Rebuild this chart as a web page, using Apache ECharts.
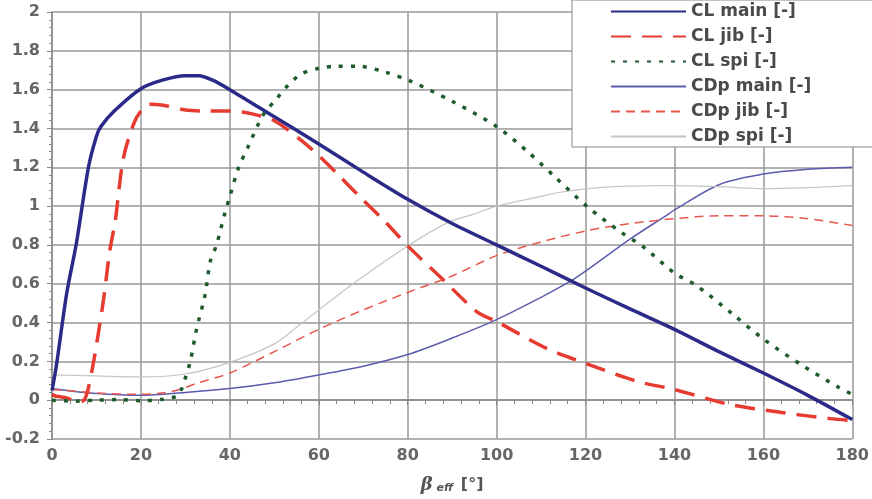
<!DOCTYPE html>
<html>
<head>
<meta charset="utf-8">
<script src="https://cdn.jsdelivr.net/npm/echarts@6/dist/echarts.min.js"></script>
<style>
  html, body { margin: 0; padding: 0; background: #fff; }
  #chart { width: 872px; height: 499px; }
</style>
</head>
<body>
<div id="chart"></div>
<script>
// series names (legend)
const names = ['CL main [-]', 'CL jib [-]', 'CL spi [-]', 'CDp main [-]', 'CDp jib [-]', 'CDp spi [-]']

// [beta_eff (deg), coefficient]
const clMain = [[0, 0.05], [1, 0.18], [3.3, 0.55], [5.5, 0.81], [8.2, 1.2], [10, 1.36], [11, 1.41], [14, 1.49],
  [20, 1.605], [25, 1.65], [30, 1.672], [33, 1.672], [36, 1.65], [40, 1.6], [50, 1.46], [60, 1.32], [70, 1.175],
  [80, 1.035], [90, 0.91], [100, 0.8], [110, 0.69], [120, 0.578], [130, 0.47], [140, 0.365], [150, 0.25],
  [160, 0.14], [170, 0.025], [180, -0.1]]

const clJib = [[0, 0.03], [1, 0.02], [3.3, 0.012], [5.8, -0.01], [7.2, 0.0], [8.1, 0.055], [9.3, 0.19], [10.5, 0.355],
  [11.6, 0.52], [13, 0.77], [14.2, 0.92], [16, 1.24], [18.3, 1.42], [20, 1.49], [22, 1.525], [25, 1.52], [30, 1.495],
  [35, 1.49], [40, 1.49], [45, 1.475], [50, 1.44], [56, 1.34], [60, 1.26], [64, 1.17], [70, 1.03], [74.5, 0.93],
  [80, 0.795], [88, 0.62], [95.6, 0.455], [100, 0.405], [111.4, 0.265], [120, 0.19], [131.6, 0.097], [140, 0.055],
  [152, -0.02], [163, -0.06], [175, -0.095], [180, -0.105]]

const clSpi = [[0, 0], [5, -0.005], [10, 0], [15, 0.003], [20, -0.003], [25, 0.005], [28, 0.02], [29, 0.05],
  [30, 0.115], [31.1, 0.2], [32.5, 0.365], [34.4, 0.54], [35.6, 0.715], [37, 0.8], [38.9, 0.965], [40, 1.05],
  [42, 1.2], [44, 1.3], [47.5, 1.47], [50.6, 1.555], [53, 1.62], [56, 1.68], [60, 1.71], [64, 1.72], [69, 1.72],
  [75, 1.69], [80.5, 1.645], [90, 1.54], [100, 1.41], [107, 1.28], [113.6, 1.14], [120.5, 0.995], [128, 0.865],
  [133, 0.79], [140, 0.655], [145, 0.59], [153, 0.445], [160, 0.315], [168.7, 0.18], [177, 0.065], [180, 0.03]]

const cdpMain = [[0, 0.06], [5, 0.045], [10, 0.035], [20, 0.025], [30, 0.04], [40, 0.06], [50, 0.09], [60, 0.13],
  [70, 0.175], [80, 0.235], [90, 0.32], [100, 0.415], [110, 0.53], [116.6, 0.613], [120, 0.665], [130, 0.83],
  [138.4, 0.955], [140, 0.98], [150, 1.11], [160, 1.165], [170, 1.19], [180, 1.2]]

const cdpJib = [[0, 0.055], [6, 0.045], [12, 0.035], [20, 0.03], [27, 0.045], [33, 0.09], [40, 0.14], [50, 0.25],
  [60, 0.365], [70, 0.465], [80, 0.555], [90, 0.64], [100, 0.745], [110, 0.815], [120, 0.872], [130, 0.91],
  [140, 0.935], [150, 0.95], [160, 0.95], [170, 0.935], [180, 0.9]]

const cdpSpi = [[0, 0.13], [10, 0.125], [20, 0.12], [30, 0.135], [40, 0.195], [50, 0.29], [55.8, 0.39], [60, 0.465],
  [68, 0.605], [80, 0.795], [89, 0.915], [95, 0.96], [100, 1.0], [110, 1.05], [114, 1.07], [123, 1.095],
  [137, 1.105], [150, 1.1], [160, 1.09], [170, 1.095], [180, 1.105]]

const font = 'DejaVu Sans, Verdana, sans-serif'

const mkLine = (name, data, color, width, type) => ({
  name: name,
  type: 'line',
  data: data,
  xAxisIndex: 0,
  showSymbol: false,
  symbol: 'none',
  smooth: 0.3,
  lineStyle: { color: color, width: width, type: type, cap: 'butt' },
  itemStyle: { color: color },
  emphasis: { disabled: true }
})

let chart = echarts.init(document.getElementById('chart'))
let option = {
  animation: false,
  backgroundColor: '#fff',
  textStyle: { fontFamily: font },
  grid: { left: 52, right: 19, top: 12, bottom: 48 },
  legend: {
    data: names,
    orient: 'vertical',
    left: 572,
    top: 0,
    padding: [3, 110, 2, 38],
    itemWidth: 75,
    itemHeight: 14,
    itemGap: 8,
    backgroundColor: '#fff',
    borderColor: '#888',
    borderWidth: 1,
    itemStyle: { opacity: 0, borderWidth: 0 },
    textStyle: { fontFamily: font, fontSize: 17, lineHeight: 14, fontWeight: 'bold', color: '#4a4a4a' }
  },
  xAxis: [
    {
      type: 'value',
      position: 'bottom',
      min: 0,
      max: 180,
      interval: 20,
      axisLine: { show: false, onZero: false },
      axisTick: { show: false },
      axisLabel: { fontSize: 16, fontWeight: 'bold', color: '#666', margin: 9, fontFamily: font },
      splitLine: { show: true, lineStyle: { color: '#999', width: 1.5 } },
      name: '{b|β}{s| eff}  {u|[°]}',
      nameLocation: 'middle',
      nameGap: 37,
      nameTextStyle: {
        rich: {
          b: { fontSize: 18, fontStyle: 'italic', fontWeight: 'bold', color: '#555', fontFamily: 'DejaVu Serif' },
          s: { fontSize: 11, fontStyle: 'italic', fontWeight: 'bold', color: '#555', padding: [6, 0, 0, 0], fontFamily: font },
          u: { fontSize: 16, fontWeight: 'bold', color: '#555', fontFamily: font }
        }
      }
    },
    {
      type: 'value',
      position: 'top',
      min: 0,
      max: 180,
      interval: 20,
      axisLine: { show: true, onZero: true, lineStyle: { color: '#888', width: 1.5 } },
      axisTick: { show: true, inside: true, length: 5, lineStyle: { color: '#888' } },
      minorTick: { show: true, splitNumber: 5, length: 4, lineStyle: { color: '#888' } },
      axisLabel: { show: false },
      splitLine: { show: false }
    }
  ],
  yAxis: {
    type: 'value',
    min: -0.2,
    max: 2,
    interval: 0.2,
    axisLine: { show: true, onZero: false, lineStyle: { color: '#888', width: 1.5 } },
    axisTick: { show: true, length: 5, lineStyle: { color: '#888' } },
    minorTick: { show: true, splitNumber: 5, length: 3, lineStyle: { color: '#888' } },
    axisLabel: { fontSize: 16, fontWeight: 'bold', color: '#666', margin: 12, fontFamily: font },
    splitLine: { show: true, lineStyle: { color: '#999', width: 1.5 } }
  },
  series: [
    mkLine(names[3], cdpMain, '#5c5cae', 1.5, 'solid'),
    mkLine(names[4], cdpJib, '#e8574f', 1.5, [9, 6]),
    mkLine(names[5], cdpSpi, '#c4c4c4', 1.2, 'solid'),
    mkLine(names[0], clMain, '#2a2a88', 3.5, 'solid'),
    mkLine(names[1], clJib, '#e63b30', 3.5, [20, 11]),
    mkLine(names[2], clSpi, '#1d5a2c', 3.5, [4, 8])
  ]
}
chart.setOption(option)
</script>
</body>
</html>
